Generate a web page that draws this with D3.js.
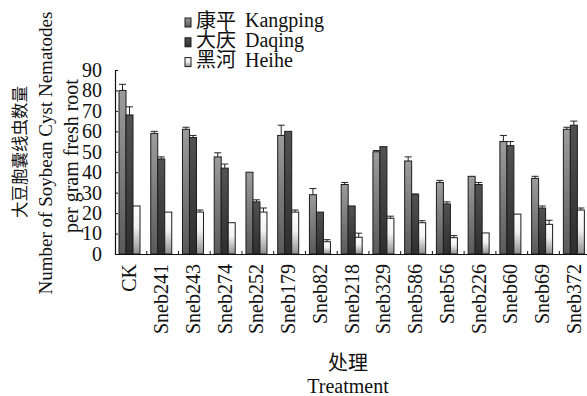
<!DOCTYPE html>
<html>
<head>
<meta charset="utf-8">
<script src="https://cdn.jsdelivr.net/npm/d3@7"></script>
<style>
  html, body { margin: 0; padding: 0; background: #fff; }
  svg { display: block; }
</style>
</head>
<body>
<svg id="chart" width="587" height="396"></svg>
<script>
// Treatments (soybean cyst nematode counts per gram of fresh root)
const categories = ["CK", "Sneb241", "Sneb243", "Sneb274", "Sneb252", "Sneb179", "Sneb82",
  "Sneb218", "Sneb329", "Sneb586", "Sneb56", "Sneb226", "Sneb60", "Sneb69", "Sneb372"];

const seriesCn = ["康平", "大庆", "黑河"];
const seriesEn = ["Kangping", "Daqing", "Heihe"];

const kangping    = [80, 59, 61, 47.5, 40, 58, 29, 34, 50, 45.5, 35, 38, 55, 37, 61];
const kangpingErr = [3, 1, 1, 2, 0, 5, 3, 1, 0.6, 2, 1, 0, 3, 1, 1];
const daqing      = [68, 46.5, 57, 42, 25.5, 60, 20.5, 23.5, 52.5, 29, 24.5, 34, 53, 22.5, 63];
const daqingErr   = [4, 1, 1, 2, 1, 0, 0, 0, 0, 0.4, 1, 1, 2, 1, 2];
const heihe       = [23.5, 20.5, 20.5, 15.3, 20.5, 20.5, 6, 8.2, 17.5, 15.3, 8, 10.3, 19.5, 14.5, 21.5];
const heiheErr    = [0, 0, 1, 0, 2, 1, 1, 2, 1, 1, 1, 0, 0, 2, 1];

const yTicks = [0, 10, 20, 30, 40, 50, 60, 70, 80, 90];

const values = [kangping, daqing, heihe];
const errors = [kangpingErr, daqingErr, heiheErr];

const SERIF = '"Liberation Serif", "Times New Roman", serif';
const CJK = '"Noto Sans CJK SC", sans-serif';

const svg = d3.select("#chart");

// gradient fills for the three sites
const defs = svg.append("defs");
const gradStops = [
  [[0, "#9c9c9c"], [1, "#5a5a5a"]],
  [[0, "#525252"], [1, "#2e2e2e"]],
  [[0, "#ffffff"], [0.45, "#f2f2f2"], [1, "#8f8f8f"]]
];
gradStops.forEach((stops, i) => {
  const g = defs.append("linearGradient")
    .attr("id", "fill" + i)
    .attr("x1", 0).attr("y1", 0).attr("x2", 0).attr("y2", 1);
  stops.forEach(([o, c]) => g.append("stop").attr("offset", o).attr("stop-color", c));
});

// scales
const x0 = d3.scaleBand().domain(categories).range([115, 115 + 15 * 31.74]).padding(0);
const x1 = d3.scaleBand().domain(d3.range(3)).range([4, 25]).padding(0);
const y = d3.scaleLinear().domain([0, 90]).range([254, 70]);

// bars
const groups = svg.append("g").selectAll("g")
  .data(categories)
  .join("g")
  .attr("transform", d => `translate(${x0(d)},0)`);

groups.selectAll("rect")
  .data((d, ci) => values.map((arr, si) => ({ si, v: arr[ci], e: errors[si][ci] })))
  .join("rect")
  .attr("x", d => x1(d.si))
  .attr("y", d => y(d.v))
  .attr("width", x1.bandwidth())
  .attr("height", d => y(0) - y(d.v))
  .attr("fill", d => `url(#fill${d.si})`)
  .attr("stroke", "#1c1c1c")
  .attr("stroke-width", 1);

// upper error bars with caps
const err = groups.selectAll("g.err")
  .data((d, ci) => values.map((arr, si) => ({ si, v: arr[ci], e: errors[si][ci] })).filter(d => d.e > 0))
  .join("g")
  .attr("class", "err")
  .attr("stroke", "#222")
  .attr("stroke-width", 1);
err.append("line")
  .attr("x1", d => x1(d.si) + x1.bandwidth() / 2)
  .attr("x2", d => x1(d.si) + x1.bandwidth() / 2)
  .attr("y1", d => y(d.v))
  .attr("y2", d => y(d.v + d.e));
err.append("line")
  .attr("x1", d => x1(d.si))
  .attr("x2", d => x1(d.si) + x1.bandwidth())
  .attr("y1", d => y(d.v + d.e))
  .attr("y2", d => y(d.v + d.e));

// y axis, ticks pointing inward
const yAxis = svg.append("g")
  .attr("transform", "translate(115,0)")
  .call(d3.axisLeft(y).tickValues(yTicks).tickSizeInner(-3).tickSizeOuter(0).tickPadding(13))
  .attr("font-family", null).attr("font-size", null);
yAxis.select(".domain").attr("stroke", "#111").attr("stroke-width", 1.2);
yAxis.selectAll(".tick line").attr("stroke", "#111");
yAxis.selectAll("text")
  .style("font-family", SERIF).style("font-size", "20px").attr("fill", "#111");

// x axis line with group separators and rotated labels
const xAxis = svg.append("g")
  .attr("transform", "translate(0,254)")
  .call(d3.axisBottom(x0).tickSize(0).tickPadding(0))
  .attr("font-family", null).attr("font-size", null);
xAxis.select(".domain").attr("stroke", "#111").attr("stroke-width", 1.2);
xAxis.selectAll(".tick text")
  .attr("transform", "rotate(-90)")
  .attr("x", -10)
  .attr("y", -1.5)
  .attr("dy", "0.35em")
  .attr("text-anchor", "end")
  .style("font-family", SERIF).style("font-size", "20px")
  .attr("fill", "#111");

svg.append("g").selectAll("line")
  .data(categories.slice(1))
  .join("line")
  .attr("x1", d => x0(d)).attr("x2", d => x0(d))
  .attr("y1", y(0)).attr("y2", y(0) - 3)
  .attr("stroke", "#111");

// axis titles
svg.append("text")
  .attr("transform", "translate(20,152) rotate(-90)")
  .attr("text-anchor", "middle").attr("dy", "0.35em")
  .style("font-family", CJK).style("font-size", "16.5px").attr("fill", "#111")
  .text("大豆胞囊线虫数量");
svg.append("text")
  .attr("transform", "translate(45,153) rotate(-90)")
  .attr("text-anchor", "middle").attr("dy", "0.35em")
  .style("font-family", SERIF).style("font-size", "19px").attr("fill", "#111")
  .text("Number of Soybean Cyst Nematodes");
svg.append("text")
  .attr("transform", "translate(71,156) rotate(-90)")
  .attr("text-anchor", "middle").attr("dy", "0.35em")
  .style("font-family", SERIF).style("font-size", "20px").attr("fill", "#111")
  .text("per gram fresh root");

svg.append("text")
  .attr("x", 348).attr("y", 370)
  .attr("text-anchor", "middle")
  .style("font-family", CJK).style("font-size", "20px").attr("fill", "#111")
  .text("处理");
svg.append("text")
  .attr("x", 348).attr("y", 393)
  .attr("text-anchor", "middle")
  .style("font-family", SERIF).style("font-size", "20px").attr("fill", "#111")
  .text("Treatment");

// legend
const legend = svg.append("g").selectAll("g")
  .data(seriesEn)
  .join("g")
  .attr("transform", (d, i) => `translate(185,${18 + i * 19.8})`);
legend.append("rect")
  .attr("width", 6).attr("height", 9)
  .attr("fill", (d, i) => `url(#fill${i})`)
  .attr("stroke", "#1c1c1c").attr("stroke-width", 1);
legend.append("text")
  .attr("x", 11).attr("y", 9.5)
  .style("font-family", CJK).style("font-size", "20px").attr("fill", "#111")
  .text((d, i) => seriesCn[i]);
legend.append("text")
  .attr("x", 60).attr("y", 9)
  .style("font-family", SERIF).style("font-size", "20px").attr("fill", "#111")
  .text(d => d);
</script>
</body>
</html>
